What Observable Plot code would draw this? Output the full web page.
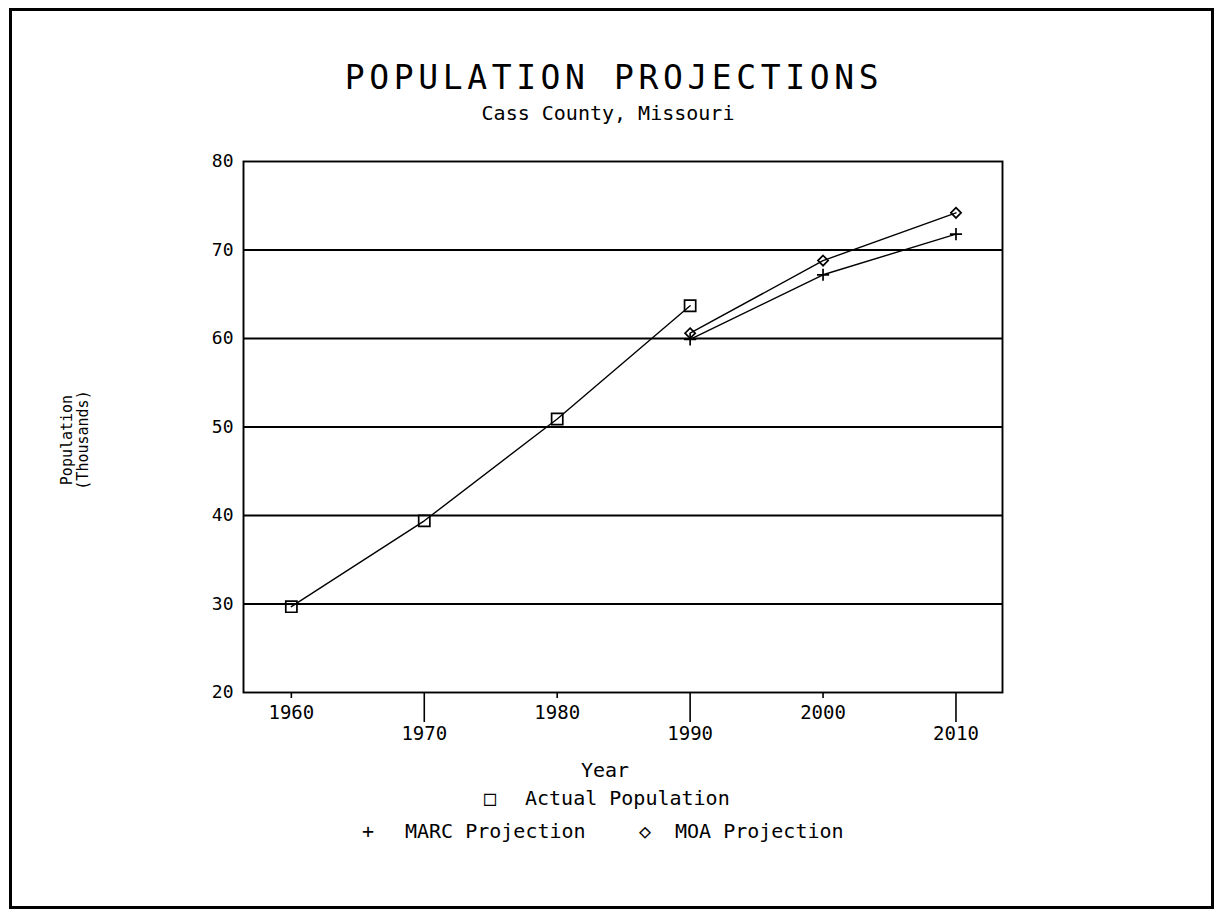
<!DOCTYPE html>
<html>
<head>
<meta charset="utf-8">
<script src="https://cdn.jsdelivr.net/npm/d3@7"></script>
<script src="https://cdn.jsdelivr.net/npm/@observablehq/plot@0.6"></script>
<style>
  html, body { margin: 0; padding: 0; background: #fff; }
  #page { position: relative; width: 1215px; height: 911px; overflow: hidden; font-family: "DejaVu Sans Mono", monospace; color: #000; }
  #page svg { position: absolute; left: 0; top: 0; }
  .border { position: absolute; left: 9px; top: 8px; width: 1205px; height: 901px; border: 3px solid #000; box-sizing: border-box; }
  .t { position: absolute; white-space: nowrap; line-height: 1; transform: translate(-50%, -50%); }
  .l { position: absolute; white-space: nowrap; line-height: 1; transform: translate(0, -50%); }
</style>
</head>
<body>
<div id="page">
  <div class="border"></div>
</div>
<script>
// ---- data ----
const actualYears = [1960, 1970, 1980, 1990];
const actualValues = [29.7, 39.4, 50.9, 63.7];
const projYears = [1990, 2000, 2010];
const marcValues = [59.9, 67.2, 71.8];
const moaValues = [60.6, 68.8, 74.2];
const yTicks = [20, 30, 40, 50, 60, 70, 80];
const gridValues = [30, 40, 50, 60, 70];
const xTicksUpper = [1960, 1980, 2000];
const xTicksLower = [1970, 1990, 2010];
const titleText = "POPULATION PROJECTIONS";
const subtitleText = "Cass County, Missouri";
const yLabelLines = ["Population", "(Thousands)"];
const xLabelText = "Year";
const seriesNames = ["Actual Population", "MARC Projection", "MOA Projection"];

const actual = actualYears.map((year, i) => ({year, value: actualValues[i]}));
const marc = projYears.map((year, i) => ({year, value: marcValues[i]}));
const moa = projYears.map((year, i) => ({year, value: moaValues[i]}));

const font = "DejaVu Sans Mono";
const frameH = 911 - 161 - 219;

const chart = Plot.plot({
  width: 1215,
  height: 911,
  marginLeft: 243,
  marginRight: 213,
  marginTop: 161,
  marginBottom: 219,
  style: {fontFamily: font, fontSize: "18px", color: "#000", background: "transparent"},
  x: {domain: [1956.4, 2013.5], label: null},
  y: {domain: [20, 80], label: null},
  marks: [
    Plot.ruleY(gridValues, {stroke: "#000", strokeWidth: 1.9}),
    Plot.frame({stroke: "#000", strokeWidth: 1.9}),
    Plot.axisY({ticks: yTicks, tickSize: 0, tickPadding: 10, label: null, fontSize: 18}),
    // tick marks below the axis (short and long, alternating)
    Plot.tickX(xTicksUpper, {x: d => d, stroke: "#000", strokeWidth: 1.6, insetTop: frameH, insetBottom: -6}),
    Plot.tickX(xTicksLower, {x: d => d, stroke: "#000", strokeWidth: 1.6, insetTop: frameH, insetBottom: -30}),
    Plot.axisX({ticks: xTicksUpper, tickSize: 0, tickPadding: 13, tickFormat: d => String(d), label: null, fontSize: 19}),
    Plot.axisX({ticks: xTicksLower, tickSize: 0, tickPadding: 34, tickFormat: d => String(d), label: null, fontSize: 19}),
    Plot.line(actual, {x: "year", y: "value", stroke: "#000", strokeWidth: 1.4}),
    Plot.line(marc, {x: "year", y: "value", stroke: "#000", strokeWidth: 1.4}),
    Plot.line(moa, {x: "year", y: "value", stroke: "#000", strokeWidth: 1.4}),
    Plot.dot(actual, {x: "year", y: "value", symbol: "square", r: 6.3, stroke: "#000", strokeWidth: 1.7, fill: "none"}),
    Plot.dot(marc, {x: "year", y: "value", symbol: "plus", r: 4, stroke: "#000", strokeWidth: 1.7, fill: "none"}),
    Plot.dot(moa, {x: "year", y: "value", symbol: "diamond2", r: 4.6, stroke: "#000", strokeWidth: 1.7, fill: "none"})
  ]
});

const page = document.getElementById("page");
page.appendChild(chart);

function addText(txt, x, y, css, cls = "t") {
  const d = document.createElement("div");
  d.className = cls;
  d.textContent = txt;
  d.style.left = x + "px";
  d.style.top = y + "px";
  Object.assign(d.style, css);
  page.appendChild(d);
  return d;
}

addText(titleText, 614, 77, {fontSize: "33px", letterSpacing: "4.6px"});
addText(subtitleText, 608, 113, {fontSize: "20px"});

const yl = document.createElement("div");
yl.className = "t";
yl.style.left = "75px";
yl.style.top = "440px";
yl.style.fontSize = "15px";
yl.style.lineHeight = "16px";
yl.style.textAlign = "center";
yl.style.transform = "translate(-50%, -50%) rotate(-90deg)";
yl.innerHTML = yLabelLines.join("<br>");
page.appendChild(yl);

addText(xLabelText, 605, 770, {fontSize: "20px"});
addText("\u25A1", 490, 798, {fontSize: "20px"});
addText(seriesNames[0], 525, 798, {fontSize: "20px"}, "l");
addText("+", 368, 831, {fontSize: "20px"});
addText(seriesNames[1], 405, 831, {fontSize: "20px"}, "l");
addText("\u25C7", 645, 831, {fontSize: "20px"});
addText(seriesNames[2], 675, 831, {fontSize: "20px"}, "l");
</script>
</body>
</html>
